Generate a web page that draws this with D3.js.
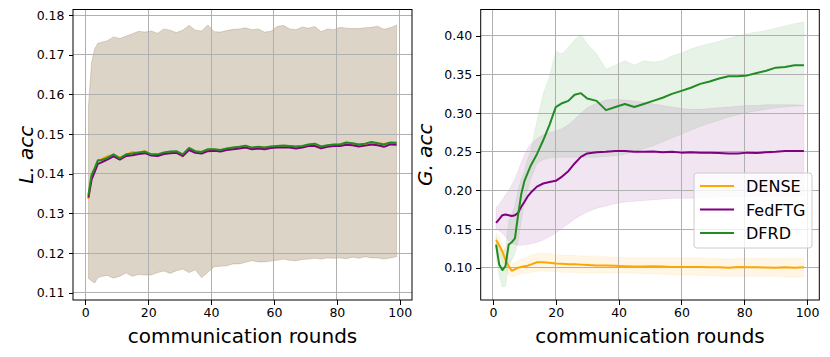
<!DOCTYPE html>
<html lang="en">
<head>
<meta charset="utf-8">
<title>L. acc / G. acc vs communication rounds</title>
<script src="https://cdn.jsdelivr.net/npm/d3@7"></script>
<style>
body { margin: 0; background: #fff; }
svg { font-family: "DejaVu Sans", sans-serif; }
.axis line { stroke: #000; shape-rendering: crispEdges; }
.axis text { font-size: 12.5px; fill: #000; font-family: "DejaVu Sans", sans-serif; }
.grid line { stroke: #b0b0b0; stroke-width: 1; shape-rendering: crispEdges; }
</style>
</head>
<body>
<script>
// ---- data ----
var seriesNames = ["DENSE", "FedFTG", "DFRD"];
var seriesColors = ["#ffa500", "#800080", "#228b22"];
var xTicks = [0, 20, 40, 60, 80, 100];
var localTicks = [0.11, 0.12, 0.13, 0.14, 0.15, 0.16, 0.17, 0.18];
var globalTicks = [0.10, 0.15, 0.20, 0.25, 0.30, 0.35, 0.40];

// left panel (L. acc)
var localRounds = [1, 2, 3, 4, 5, 7, 9, 11, 13, 15, 17, 19, 21, 23, 25, 27, 29, 31, 33, 35, 37, 39, 41, 43, 45,
    47, 49, 51, 53, 55, 57, 59, 61, 63, 65, 67, 69, 71, 73, 75, 77, 79, 81, 83, 85, 87, 89, 91, 93, 95, 97, 99];
var localDense = [0.1336, 0.1392, 0.1412, 0.1432, 0.1436, 0.1444, 0.1447, 0.1441, 0.1447, 0.1455, 0.1453, 0.1457,
    0.1448, 0.1447, 0.1452, 0.1455, 0.1455, 0.1443, 0.1463, 0.1454, 0.1455, 0.1460, 0.1461, 0.1459, 0.1463, 0.1465,
    0.1467, 0.1469, 0.1465, 0.1466, 0.1466, 0.1468, 0.1469, 0.1470, 0.1469, 0.1468, 0.1469, 0.1473, 0.1474, 0.1467,
    0.1471, 0.1473, 0.1474, 0.1478, 0.1476, 0.1474, 0.1475, 0.1479, 0.1477, 0.1475, 0.1478, 0.1477];
var localFedftg = [0.1340, 0.1385, 0.1405, 0.1425, 0.1428, 0.1436, 0.1444, 0.1436, 0.1445, 0.1447, 0.1450, 0.1452,
    0.1446, 0.1445, 0.1450, 0.1452, 0.1453, 0.1445, 0.1460, 0.1453, 0.1451, 0.1457, 0.1458, 0.1456, 0.1460, 0.1462,
    0.1464, 0.1466, 0.1462, 0.1464, 0.1462, 0.1465, 0.1466, 0.1467, 0.1466, 0.1464, 0.1466, 0.1470, 0.1470, 0.1464,
    0.1468, 0.1470, 0.1470, 0.1473, 0.1472, 0.1469, 0.1471, 0.1474, 0.1472, 0.1468, 0.1474, 0.1473];
var localDfrd = [0.1346, 0.1397, 0.1414, 0.1434, 0.1434, 0.1440, 0.1449, 0.1439, 0.1449, 0.1451, 0.1454, 0.1456,
    0.1449, 0.1449, 0.1454, 0.1456, 0.1457, 0.1449, 0.1465, 0.1457, 0.1455, 0.1462, 0.1462, 0.1460, 0.1464, 0.1466,
    0.1468, 0.1471, 0.1466, 0.1468, 0.1466, 0.1469, 0.1470, 0.1471, 0.1470, 0.1469, 0.1470, 0.1474, 0.1476, 0.1469,
    0.1472, 0.1474, 0.1474, 0.1479, 0.1477, 0.1474, 0.1476, 0.1480, 0.1477, 0.1474, 0.1479, 0.1478];
var localHigh = [0.1570, 0.1680, 0.1715, 0.1729, 0.1731, 0.1735, 0.1745, 0.1741, 0.1747, 0.1753, 0.1759, 0.1757,
    0.1760, 0.1754, 0.1765, 0.1762, 0.1756, 0.1762, 0.1774, 0.1762, 0.1760, 0.1775, 0.1758, 0.1757, 0.1761, 0.1764,
    0.1765, 0.1768, 0.1763, 0.1765, 0.1757, 0.1759, 0.1771, 0.1774, 0.1765, 0.1763, 0.1770, 0.1767, 0.1771, 0.1758,
    0.1765, 0.1763, 0.1769, 0.1767, 0.1766, 0.1766, 0.1768, 0.1769, 0.1772, 0.1764, 0.1768, 0.1775];
var localLow = [0.1136, 0.1130, 0.1125, 0.1138, 0.1141, 0.1144, 0.1137, 0.1142, 0.1150, 0.1142, 0.1146, 0.1145,
    0.1145, 0.1151, 0.1155, 0.1149, 0.1156, 0.1160, 0.1151, 0.1158, 0.1138, 0.1152, 0.1166, 0.1167, 0.1168, 0.1173,
    0.1173, 0.1177, 0.1181, 0.1178, 0.1178, 0.1180, 0.1182, 0.1185, 0.1182, 0.1181, 0.1184, 0.1185, 0.1187, 0.1185,
    0.1188, 0.1187, 0.1188, 0.1186, 0.1190, 0.1187, 0.1191, 0.1188, 0.1188, 0.1185, 0.1188, 0.1191];

// right panel (G. acc)
var globalRounds = [1, 2, 3, 4, 5, 6, 7, 8, 9, 10, 11, 12, 14, 16, 18, 20, 22, 24, 26, 28, 30,
    33, 36, 39, 42, 45, 48, 51, 54, 57, 60, 63, 66, 69, 72, 75, 78, 81, 84, 87, 90, 93, 96, 99];
var globalDense = [0.136, 0.129, 0.121, 0.110, 0.102, 0.096, 0.098, 0.100, 0.101, 0.102, 0.1025, 0.104,
    0.107, 0.107, 0.1065, 0.1055, 0.105, 0.1045, 0.1045, 0.104, 0.1035,
    0.103, 0.103, 0.1025, 0.102, 0.1015, 0.1015, 0.102, 0.1015, 0.101, 0.101, 0.1008, 0.101, 0.1005, 0.1005,
    0.100, 0.1008, 0.1005, 0.1005, 0.1003, 0.100, 0.1005, 0.100, 0.1005];
var globalDenseHigh = [0.145, 0.140, 0.132, 0.122, 0.113, 0.105, 0.107, 0.109, 0.111, 0.113, 0.114, 0.116,
    0.118, 0.119, 0.118, 0.117, 0.116, 0.116, 0.116, 0.115, 0.115,
    0.115, 0.114, 0.114, 0.113, 0.113, 0.113, 0.113, 0.113, 0.113, 0.113, 0.113, 0.113, 0.112, 0.112,
    0.111, 0.112, 0.112, 0.112, 0.112, 0.112, 0.112, 0.112, 0.112];
var globalDenseLow = [0.127, 0.118, 0.110, 0.098, 0.091, 0.088, 0.089, 0.091, 0.092, 0.093, 0.093, 0.094,
    0.095, 0.096, 0.095, 0.095, 0.094, 0.094, 0.094, 0.093, 0.093,
    0.093, 0.093, 0.093, 0.093, 0.093, 0.092, 0.092, 0.092, 0.091, 0.091, 0.091, 0.090, 0.090, 0.089,
    0.089, 0.089, 0.089, 0.089, 0.089, 0.089, 0.088, 0.088, 0.088];
var globalFedftg = [0.158, 0.163, 0.168, 0.169, 0.168, 0.167, 0.168, 0.171, 0.179, 0.185, 0.192, 0.197,
    0.205, 0.209, 0.211, 0.2125, 0.218, 0.225, 0.235, 0.2435, 0.248,
    0.2495, 0.250, 0.251, 0.251, 0.250, 0.250, 0.2505, 0.2495, 0.250, 0.249, 0.2495, 0.249, 0.249, 0.2485,
    0.248, 0.248, 0.249, 0.2485, 0.2495, 0.250, 0.251, 0.2512, 0.251];
var globalFedftgHigh = [0.178, 0.182, 0.188, 0.194, 0.200, 0.207, 0.215, 0.225, 0.236, 0.246, 0.254, 0.260,
    0.267, 0.272, 0.275, 0.277, 0.280, 0.285, 0.292, 0.300, 0.307,
    0.313, 0.317, 0.318, 0.317, 0.316, 0.314, 0.312, 0.310, 0.308, 0.306, 0.305, 0.305, 0.306, 0.307,
    0.308, 0.309, 0.310, 0.310, 0.311, 0.311, 0.311, 0.311, 0.310];
var globalFedftgLow = [0.150, 0.148, 0.145, 0.140, 0.135, 0.132, 0.130, 0.129, 0.129, 0.130, 0.130, 0.131,
    0.133, 0.136, 0.140, 0.145, 0.151, 0.157, 0.163, 0.168, 0.172,
    0.177, 0.180, 0.183, 0.185, 0.186, 0.187, 0.188, 0.189, 0.190, 0.190, 0.190, 0.191, 0.191, 0.192,
    0.192, 0.192, 0.192, 0.193, 0.193, 0.193, 0.193, 0.193, 0.193];
var globalDfrd = [0.130, 0.104, 0.097, 0.102, 0.130, 0.133, 0.138, 0.168, 0.195, 0.212, 0.222, 0.232,
    0.247, 0.265, 0.285, 0.308, 0.313, 0.316, 0.324, 0.326, 0.319,
    0.316, 0.304, 0.308, 0.312, 0.308, 0.312, 0.316, 0.320, 0.325, 0.329, 0.333, 0.338, 0.341, 0.345,
    0.348, 0.348, 0.349, 0.352, 0.355, 0.359, 0.360, 0.362, 0.362];
var globalDfrdHigh = [0.140, 0.125, 0.120, 0.125, 0.160, 0.170, 0.180, 0.200, 0.215, 0.225, 0.240, 0.250,
    0.290, 0.325, 0.347, 0.380, 0.377, 0.385, 0.395, 0.402, 0.390,
    0.377, 0.357, 0.362, 0.368, 0.362, 0.368, 0.366, 0.368, 0.374, 0.378, 0.383, 0.387, 0.390, 0.393,
    0.397, 0.400, 0.403, 0.405, 0.407, 0.410, 0.413, 0.416, 0.418];
var globalDfrdLow = [0.115, 0.090, 0.075, 0.076, 0.105, 0.110, 0.118, 0.135, 0.160, 0.185, 0.200, 0.215,
    0.235, 0.240, 0.242, 0.243, 0.243, 0.243, 0.243, 0.243, 0.243,
    0.243, 0.244, 0.245, 0.247, 0.250, 0.254, 0.258, 0.263, 0.268, 0.273, 0.278, 0.283, 0.287, 0.291,
    0.295, 0.298, 0.301, 0.303, 0.305, 0.307, 0.308, 0.309, 0.310];

// ---- layout ----
var outer_width = 830;
var outer_height = 357;
var plotTop = 9.5, plotBottom = 300;

var panels = [
    {
        left: 73, right: 412, yDomain: [0.1082, 0.1814], yTicks: localTicks,
        label: "L. acc", labelX: 33, rounds: localRounds,
        series: [
            { mean: localDense, hi: localHigh, lo: localLow },
            { mean: localFedftg, hi: localHigh, lo: localLow },
            { mean: localDfrd, hi: localHigh, lo: localLow }
        ],
        legend: false
    },
    {
        left: 480.7, right: 819.3, yDomain: [0.0582, 0.4343], yTicks: globalTicks,
        label: "G. acc", labelX: 432, rounds: globalRounds,
        series: [
            { mean: globalDense, hi: globalDenseHigh, lo: globalDenseLow },
            { mean: globalFedftg, hi: globalFedftgHigh, lo: globalFedftgLow },
            { mean: globalDfrd, hi: globalDfrdHigh, lo: globalDfrdLow }
        ],
        legend: true
    }
];

var svg = d3.select("body")
    .append("svg")
    .attr("width", outer_width)
    .attr("height", outer_height);

function drawPanel(p) {
    var xScale = d3.scaleLinear().domain([-3.9, 103.9]).range([p.left, p.right]);
    var yScale = d3.scaleLinear().domain(p.yDomain).range([plotBottom, plotTop]);
    var g = svg.append("g");

    // bands (drawn first, grid sits on top of them like matplotlib)
    p.series.forEach(function(s, k) {
        var area = d3.area()
            .x(function(d, i) { return xScale(p.rounds[i]); })
            .y0(function(d, i) { return yScale(s.lo[i]); })
            .y1(function(d, i) { return yScale(s.hi[i]); });
        g.append("path")
            .datum(s.mean)
            .attr("d", area)
            .attr("fill", seriesColors[k])
            .attr("fill-opacity", 0.1)
            .attr("stroke", seriesColors[k])
            .attr("stroke-opacity", 0.1)
            .attr("stroke-width", 0.8);
    });

    // grid
    var grid = g.append("g").attr("class", "grid");
    grid.selectAll(".gx").data(xTicks).enter().append("line")
        .attr("x1", function(d) { return xScale(d); })
        .attr("x2", function(d) { return xScale(d); })
        .attr("y1", plotTop).attr("y2", plotBottom);
    grid.selectAll(".gy").data(p.yTicks).enter().append("line")
        .attr("x1", p.left).attr("x2", p.right)
        .attr("y1", function(d) { return yScale(d); })
        .attr("y2", function(d) { return yScale(d); });

    // mean lines
    p.series.forEach(function(s, k) {
        var line = d3.line()
            .x(function(d, i) { return xScale(p.rounds[i]); })
            .y(function(d) { return yScale(d); });
        g.append("path")
            .datum(s.mean)
            .attr("d", line)
            .attr("fill", "none")
            .attr("stroke", seriesColors[k])
            .attr("stroke-width", 2)
            .attr("stroke-linejoin", "round");
    });

    // frame
    g.append("rect")
        .attr("x", p.left).attr("y", plotTop)
        .attr("width", p.right - p.left).attr("height", plotBottom - plotTop)
        .attr("fill", "none").attr("stroke", "#000").attr("stroke-width", 1);

    // axes
    var xAxis = d3.axisBottom(xScale).tickValues(xTicks).tickSize(4.5).tickPadding(3.5);
    var yAxis = d3.axisLeft(yScale).tickValues(p.yTicks).tickSize(4.5).tickPadding(4)
        .tickFormat(d3.format(".2f"));
    var gx = g.append("g").attr("class", "axis")
        .attr("transform", "translate(0," + plotBottom + ")").call(xAxis);
    var gy = g.append("g").attr("class", "axis")
        .attr("transform", "translate(" + p.left + ",0)").call(yAxis);
    gx.select(".domain").remove();
    gy.select(".domain").remove();
    gx.attr("font-size", null).attr("font-family", null);
    gy.attr("font-size", null).attr("font-family", null);

    // axis titles
    g.append("text")
        .attr("x", (p.left + p.right) / 2)
        .attr("y", 343)
        .attr("text-anchor", "middle")
        .attr("font-size", "20px")
        .text("communication rounds");
    g.append("text")
        .attr("transform", "translate(" + p.labelX + "," + ((plotTop + plotBottom) / 2) + ") rotate(-90)")
        .attr("text-anchor", "middle")
        .attr("font-size", "20px")
        .attr("font-style", "italic")
        .text(p.label);

    // legend
    if (p.legend) {
        var lg = g.append("g").attr("transform", "translate(694,173)");
        lg.append("rect")
            .attr("width", 118).attr("height", 75).attr("rx", 3)
            .attr("fill", "#fff").attr("fill-opacity", 0.8)
            .attr("stroke", "#cccccc").attr("stroke-width", 1);
        seriesNames.forEach(function(name, k) {
            var cy = 13 + k * 23.5;
            lg.append("line")
                .attr("x1", 6).attr("x2", 40)
                .attr("y1", cy).attr("y2", cy)
                .attr("stroke", seriesColors[k]).attr("stroke-width", 2);
            lg.append("text")
                .attr("x", 52).attr("y", cy + 6)
                .attr("font-size", "16px")
                .text(name);
        });
    }
}

panels.forEach(drawPanel);
</script>
</body>
</html>
